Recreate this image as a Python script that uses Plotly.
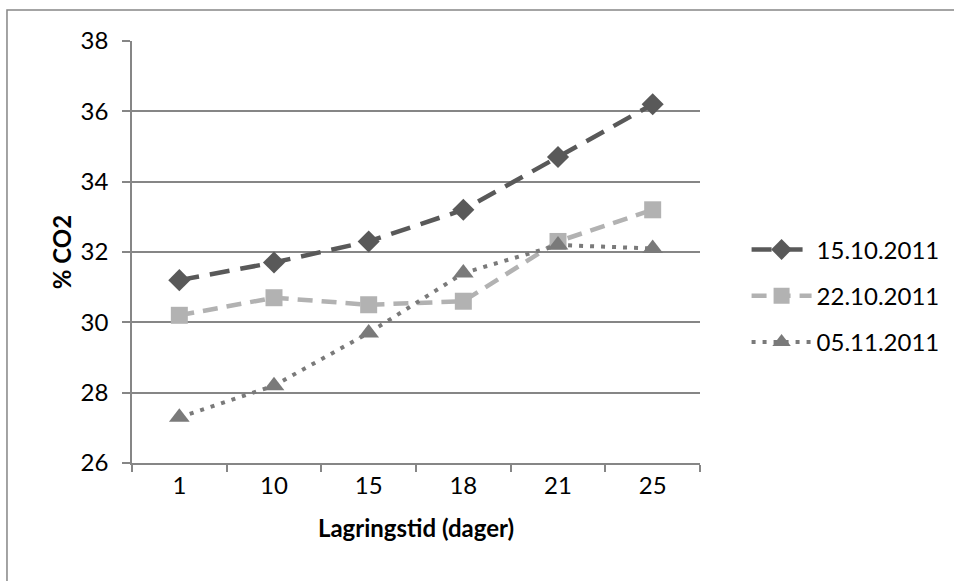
import plotly.graph_objects as go

# Storage time categories (days) and CO2 concentration per sampling date
days = ["1", "10", "15", "18", "21", "25"]
co2_15_10 = [31.2, 31.7, 32.3, 33.2, 34.7, 36.2]
co2_22_10 = [30.2, 30.7, 30.5, 30.6, 32.3, 33.2]
co2_05_11 = [27.3, 28.2, 29.7, 31.4, 32.2, 32.1]
y_ticks = [26, 28, 30, 32, 34, 36, 38]

FONT = "Lato, 'Open Sans', sans-serif"

fig = go.Figure()
fig.add_trace(go.Scatter(
    x=days, y=co2_15_10, name="15.10.2011", mode="lines+markers",
    legendgroup="a",
    line=dict(color="#595959", width=4.5, dash="20px,11px"),
    marker=dict(symbol="diamond", size=17, color="#595959"),
))
fig.add_trace(go.Scatter(
    x=days, y=co2_22_10, name="22.10.2011", mode="lines+markers",
    legendgroup="b",
    line=dict(color="#b2b2b2", width=4.5, dash="15px,9px"),
    marker=dict(symbol="square", size=17, color="#b2b2b2"),
))
fig.add_trace(go.Scatter(
    x=days, y=co2_05_11, name="05.11.2011", mode="lines+markers",
    legendgroup="c",
    line=dict(color="#7a7a7a", width=4, dash="4px,7px"),
    marker=dict(symbol="triangle-up", size=18, color="#7a7a7a"),
))

fig.update_layout(
    width=954, height=581,
    margin=dict(l=132, r=254, t=41, b=118, autoexpand=False),
    paper_bgcolor="white", plot_bgcolor="white",
    font=dict(family=FONT, size=24, color="#000000"),
    showlegend=True,
    legend=dict(
        x=1.082, y=0.396, xanchor="left", yanchor="middle",
        font=dict(family=FONT, size=24, color="#000000"),
        itemwidth=60, tracegroupgap=12, traceorder="grouped",
        bgcolor="rgba(0,0,0,0)",
    ),
    xaxis=dict(
        type="category", range=[-0.5, 5.5],
        showgrid=False, showline=True, linecolor="#868686", linewidth=1.5,
        ticks="outside", tickson="boundaries", ticklen=7, tickcolor="#868686",
        tickwidth=1.5, tickfont=dict(size=24),
        title=dict(text="<b>Lagringstid (dager)</b>", font=dict(size=24), standoff=23),
    ),
    yaxis=dict(
        range=[26, 38], tickvals=y_ticks,
        showgrid=True, gridcolor="#868686", gridwidth=1.5,
        showline=True, linecolor="#868686", linewidth=1.5,
        ticks="outside", ticklen=8, tickcolor="#868686", tickwidth=1.5,
        tickfont=dict(size=24), zeroline=False, ticklabelstandoff=9,
        title=dict(text="<b>% CO2</b>", font=dict(size=24), standoff=2),
    ),
    # chart-area frame: only the top and left edges fall inside the page
    shapes=[dict(
        type="path", xref="paper", yref="paper",
        path="M -0.2201,-0.6 L -0.2201,1.0735 L 1.7,1.0735",
        line=dict(color="#868686", width=1.5),
        layer="below",
    )],
)

fig.write_html("out.html")
